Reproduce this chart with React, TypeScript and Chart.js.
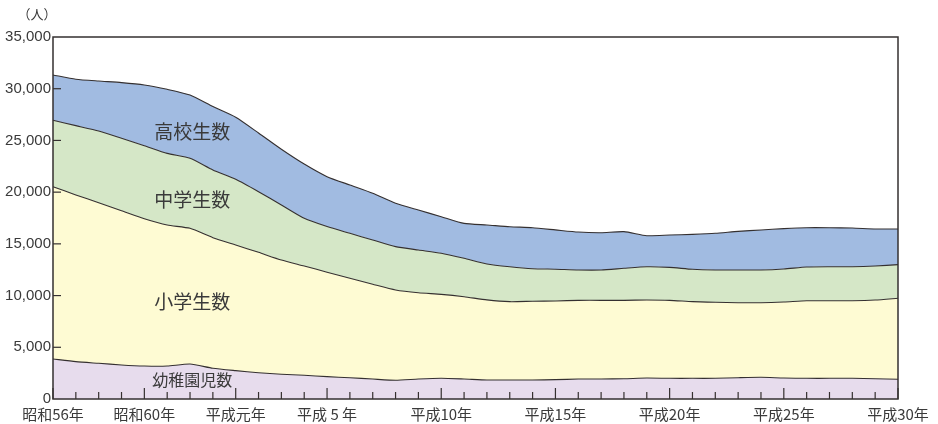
import React, { useEffect, useRef } from 'react';
import { Chart, registerables } from 'chart.js';

Chart.register(...registerables);

const categories = [
  '昭和56年', '昭和57年', '昭和58年', '昭和59年', '昭和60年', '昭和61年', '昭和62年', '昭和63年',
  '平成元年', '平成2年', '平成3年', '平成4年', '平成5年', '平成6年', '平成7年', '平成8年', '平成9年',
  '平成10年', '平成11年', '平成12年', '平成13年', '平成14年', '平成15年', '平成16年', '平成17年',
  '平成18年', '平成19年', '平成20年', '平成21年', '平成22年', '平成23年', '平成24年', '平成25年',
  '平成26年', '平成27年', '平成28年', '平成29年', '平成30年',
];

const majorTickIndex = [0, 4, 8, 12, 17, 22, 27, 32, 37];
const majorTickLabels = ['昭和56年', '昭和60年', '平成元年', '平成 5 年', '平成10年', '平成15年', '平成20年', '平成25年', '平成30年'];

const kindergarten = [3870, 3610, 3450, 3290, 3190, 3190, 3380, 2970, 2740, 2540, 2390, 2290, 2160, 2060, 1930, 1810, 1930, 2000, 1930, 1840, 1840, 1840, 1870, 1930, 1930, 1960, 2030, 2000, 2000, 2000, 2060, 2100, 2030, 2000, 2000, 2000, 1960, 1910];
const elementary = [16660, 16120, 15530, 14920, 14240, 13630, 13120, 12630, 12150, 11640, 11050, 10570, 10100, 9610, 9160, 8730, 8340, 8120, 7960, 7740, 7570, 7610, 7610, 7610, 7610, 7580, 7540, 7540, 7410, 7350, 7250, 7210, 7350, 7500, 7500, 7500, 7610, 7830];
const juniorHigh = [6420, 6700, 6930, 7000, 7060, 6930, 6770, 6550, 6350, 5860, 5320, 4610, 4410, 4350, 4280, 4190, 4130, 3970, 3710, 3480, 3380, 3150, 3070, 2930, 2930, 3100, 3220, 3190, 3130, 3120, 3160, 3160, 3190, 3260, 3290, 3290, 3290, 3250];
const highSchool = [4380, 4490, 4830, 5380, 5870, 6190, 6120, 6120, 6000, 5680, 5390, 5250, 4830, 4670, 4520, 4200, 3870, 3540, 3380, 3770, 3870, 3960, 3800, 3670, 3610, 3540, 3000, 3120, 3380, 3550, 3740, 3870, 3900, 3800, 3770, 3740, 3580, 3450];

const seriesNames = ['幼稚園児数', '小学生数', '中学生数', '高校生数'];
const seriesValues = [kindergarten, elementary, juniorHigh, highSchool];
const seriesColors = ['#e7dced', '#fefbd3', '#d5e7c7', '#a1bbe1'];

// label anchors in data space (category index, value)
const labelIndex = [6.1, 6.1, 6.1, 6.1];
const labelValue = [1840, 9380, 19240, 25820];
const labelSize = [16, 19, 19, 19];

const unitLabel = '（人）';

const CJK = '"Noto Sans CJK JP", sans-serif';
const LATIN = '"Liberation Sans", Arial, sans-serif';
const LINE = '#353030';
const TEXT = '#3a3a3a';

const overlayPlugin = {
  id: 'overlay',
  afterDatasetsDraw(chart: any) {
    const { ctx, chartArea, scales } = chart;
    const xs = scales.x;
    const ys = scales.y;
    ctx.save();
    ctx.strokeStyle = LINE;
    // x ticks (inward)
    ctx.lineWidth = 1.2;
    for (let i = 0; i < categories.length; i++) {
      const x = xs.getPixelForValue(i);
      const len = majorTickIndex.includes(i) ? 11 : 7;
      ctx.beginPath();
      ctx.moveTo(x, chartArea.bottom);
      ctx.lineTo(x, chartArea.bottom - len);
      ctx.stroke();
    }
    // y ticks (inward)
    for (let v = 5000; v < 35000; v += 5000) {
      const y = ys.getPixelForValue(v);
      ctx.beginPath();
      ctx.moveTo(chartArea.left, y);
      ctx.lineTo(chartArea.left + 8, y);
      ctx.stroke();
    }
    // frame
    ctx.lineWidth = 1.5;
    ctx.strokeRect(chartArea.left, chartArea.top, chartArea.right - chartArea.left, chartArea.bottom - chartArea.top);

    // series labels
    ctx.fillStyle = TEXT;
    ctx.textAlign = 'center';
    ctx.textBaseline = 'middle';
    for (let s = 0; s < seriesNames.length; s++) {
      ctx.font = `${labelSize[s]}px ${CJK}`;
      ctx.fillText(seriesNames[s], xs.getPixelForValue(labelIndex[s]), ys.getPixelForValue(labelValue[s]));
    }
    // unit
    ctx.font = `13px ${CJK}`;
    ctx.fillText(unitLabel, chartArea.left - 16, chartArea.top - 23);
    ctx.restore();
  },
};

export default function App() {
  const ref = useRef<HTMLCanvasElement | null>(null);

  useEffect(() => {
    if (!ref.current) return;
    const chart = new Chart(ref.current, {
      type: 'line',
      data: {
        labels: categories,
        datasets: seriesNames.map((name, i) => ({
          label: name,
          data: seriesValues[i],
          backgroundColor: seriesColors[i],
          borderColor: LINE,
          borderWidth: 1.1,
          pointRadius: 0,
          tension: 0.2,
          fill: i === 0 ? 'origin' : '-1',
        })),
      },
      options: {
        responsive: false,
        animation: false,
        layout: { padding: { left: 0, right: 40, top: 37, bottom: 0 } },
        plugins: { legend: { display: false }, tooltip: { enabled: false } },
        scales: {
          x: {
            type: 'category',
            offset: false,
            grid: { display: false, drawTicks: false },
            border: { display: false },
            ticks: {
              autoSkip: false,
              maxRotation: 0,
              padding: 6,
              color: TEXT,
              font: { family: CJK, size: 15 },
              callback: (_v: any, i: number) => {
                const k = majorTickIndex.indexOf(i);
                return k >= 0 ? majorTickLabels[k] : '';
              },
            },
            afterFit: (s: any) => { s.height = 25; },
          },
          y: {
            type: 'linear',
            stacked: true,
            min: 0,
            max: 35000,
            grid: { display: false, drawTicks: false },
            border: { display: false },
            ticks: {
              stepSize: 5000,
              padding: 2,
              color: TEXT,
              font: { family: LATIN, size: 15 },
              callback: (v: any) => Number(v).toLocaleString('en-US'),
            },
            afterFit: (s: any) => { s.width = 53; },
          },
        },
      },
      plugins: [overlayPlugin],
    });
    return () => chart.destroy();
  }, []);

  return (
    <div style={{ position: 'fixed', left: 0, top: 0, width: 938, height: 424, background: '#fff' }}>
      <canvas ref={ref} width={938} height={424} style={{ width: 938, height: 424, display: 'block' }} />
    </div>
  );
}
